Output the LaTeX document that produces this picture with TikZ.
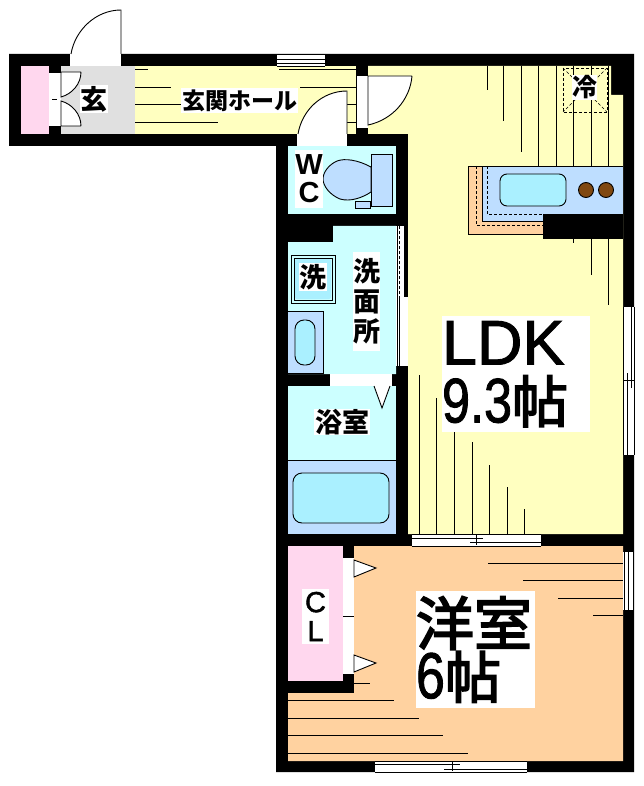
\documentclass[tikz,border=0pt]{standalone}
\usepackage{fontspec}
\usepackage{graphicx}
\setmainfont{Liberation Sans}
\newfontfamily\jpfont{Noto Sans CJK JP}
\newfontfamily\jpbig[FakeBold=3]{Noto Sans CJK JP}
\newfontfamily\latinbig[FakeBold=1.5]{Liberation Sans}
\usetikzlibrary{positioning}
\definecolor{ldkyellow}{RGB}{255,255,192}
\definecolor{wetblue}{RGB}{204,255,255}
\definecolor{unitblue}{RGB}{190,222,255}
\definecolor{basincyan}{RGB}{170,240,255}
\definecolor{roomtan}{RGB}{255,210,160}
\definecolor{closetpink}{RGB}{255,215,238}
\definecolor{entrygray}{RGB}{224,224,224}
\definecolor{burnerbrown}{RGB}{128,72,16}
\tikzset{
    thinline/.style={draw=black, line width=0.9pt},
    leaf/.style={draw=black, line width=0.9pt, fill=white},
    labelbox/.style={fill=white, inner sep=0pt, text=black},
    jpsmall/.style={labelbox, font=\jpfont\bfseries\fontsize{27}{30}\selectfont},
}

\begin{document}
\begin{tikzpicture}[x=1pt, y=-1pt]
    \useasboundingbox (0,0) rectangle (643,786);

    % walls, then the rooms on top of them
    \fill[black] (9,54) -- (634,54) -- (634,772) -- (276,772) -- (276,146) -- (9,146) -- cycle;
    \fill[closetpink] (21,66) rectangle (49,134);
    \fill[entrygray] (61,66) rectangle (135,134);
    \fill[ldkyellow] (135,66) rectangle (356,134);
    \fill[ldkyellow] (368,66) -- (611,66) -- (611,95) -- (623,95) -- (623,534) -- (408,534) -- (408,134) -- (368,134) -- cycle;
    \fill[wetblue] (288,146) rectangle (396,214);
    \fill[wetblue] (333,226) -- (396,226) -- (396,374) -- (288,374) -- (288,242) -- (333,242) -- cycle;
    \fill[wetblue] (288,386) rectangle (396,460);
    \fill[unitblue] (288,460) rectangle (396,534);
    \fill[roomtan] (354,546) -- (623,546) -- (623,761) -- (288,761) -- (288,693) -- (354,693) -- cycle;
    \fill[closetpink] (288,546) rectangle (343,681);

    % floor lines
    \draw[thinline] (135,69) -- (148,69) (279,69) -- (356,69) (135,87) -- (171,87) (300,87) -- (356,87)
        (135,104) -- (181,104) (335,104) -- (356,104) (135,122) -- (218,122) (335,122) -- (356,122);
    \draw[thinline] (487,66) -- (487,90) (503,66) -- (503,121) (521,66) -- (521,152) (538,66) -- (538,166)
        (556,66) -- (556,166) (573,66) -- (573,166) (591,66) -- (591,166) (608,66) -- (608,166)
        (573,239) -- (573,243) (591,239) -- (591,275) (608,239) -- (608,305);
    \draw[thinline] (419,375) -- (419,534) (436,398) -- (436,534) (454,432) -- (454,534) (472,442) -- (472,534)
        (489,465) -- (489,534) (507,487) -- (507,534) (524,509) -- (524,534);
    \draw[thinline] (488,563) -- (623,563) (523,580) -- (623,580) (558,598) -- (623,598) (593,615) -- (623,615)
        (354,683) -- (370,683) (288,700) -- (394,700) (288,718) -- (419,718) (288,735) -- (443,735) (288,753) -- (468,753);
    \draw[thinline] (288,460) -- (396,460);

    % entrance
    \fill[white] (70,54) rectangle (121,66);
    \draw[leaf] (71,54) .. controls (75,30) and (96,10) .. (121,10) -- (121,54);
    \fill[white] (49,72) rectangle (61,126);
    \draw[thinline] (49,72) -- (61,72) (49,126) -- (61,126) (52,99) -- (57,99);
    \draw[leaf] (81,72) -- (61,72) -- (61,97) .. controls (72,94) and (81,84) .. (81,72);
    \draw[leaf] (81,126) -- (61,126) -- (61,101) .. controls (72,104) and (81,114) .. (81,126);

    % hall window and doors
    \fill[white] (277,54) rectangle (325,66);
    \draw[thinline] (277,54) -- (325,54) (277,59) -- (325,59) (277,63) -- (325,63) (277,66) -- (325,66);
    \fill[white] (297,134) rectangle (347,146);
    \draw[leaf] (298,134) .. controls (302,110) and (322,91) .. (347,91) -- (347,134);
    \fill[white] (357,76) rectangle (368,128);
    \draw[leaf] (412,76) -- (368,76) -- (368,125) .. controls (392,120) and (410,100) .. (412,76);

    % toilet
    \draw[thinline, fill=unitblue] (371,154) rectangle (392,206);
    \draw[thinline, fill=unitblue] (371,167) .. controls (358,160) and (345,158) .. (337,161) .. controls (328,165) and (323,173) .. (323,179)
        .. controls (323,186) and (330,195) .. (340,199) .. controls (350,202) and (362,198) .. (371,192) -- cycle;
    \draw[thinline, fill=unitblue] (355,201) rectangle (370,208);

    % washroom and bath
    \draw[thinline] (291,255) rectangle (335,303);
    \draw[thinline] (294,258) rectangle (332,300);
    \fill[basincyan, rounded corners=2pt] (295,259) rectangle (331,299);
    \draw[thinline, fill=unitblue] (288,311) -- (323,311) -- (323,373) -- (288,373);
    \draw[thinline, fill=basincyan, rounded corners=9pt] (295,320) rectangle (315,365);
    \draw[thinline, fill=basincyan, rounded corners=9pt] (293,473) rectangle (389,523);
    \fill[white] (396,226) rectangle (404,297);
    \fill[white] (396,297) rectangle (408,366);
    \draw[thinline] (397,226) -- (397,366);
    \draw[thinline, densely dashed] (399.5,226) -- (399.5,297);
    \draw[thinline] (399.5,297) -- (399.5,366);
    \fill[white] (330,374) rectangle (392,386);
    \draw[leaf] (374,386) -- (382,408) -- (390,386);

    % kitchen
    \fill[roomtan] (468,166) rectangle (543,234);
    \draw[thinline] (543,234) -- (468,234) -- (468,166) -- (482,166);
    \fill[unitblue] (482,166) rectangle (623,214);
    \fill[unitblue] (482,214) rectangle (543,221);
    \draw[thinline] (623,166) -- (482,166) -- (482,221) -- (543,221);
    \draw[thinline, densely dashed] (476,166) -- (476,225) -- (543,225);
    \draw[thinline, densely dashed] (487,166) -- (487,214) -- (543,214);
    \draw[thinline, fill=basincyan, rounded corners=7pt] (500,174) rectangle (566,206);
    \draw[thinline, fill=burnerbrown] (586,190) circle (7.5);
    \draw[thinline, fill=burnerbrown] (606,190) circle (7.5);
    \fill[black] (543,214) rectangle (623,239);

    % outer windows
    \fill[white] (623,307) rectangle (634,455);
    \draw[thinline] (623,307) -- (623,455) (634,307) -- (634,455) (627,373) -- (627,455) (631,307) -- (631,388) (624,380) -- (634,380);
    \fill[white] (412,534) rectangle (541,546);
    \draw[thinline] (412,534) -- (541,534) (412,546) -- (541,546) (412,538) -- (483,538) (470,542) -- (541,542) (476,535) -- (476,545);
    \fill[white] (623,552) rectangle (634,610);
    \draw[thinline] (624,552) -- (624,610) (628,552) -- (628,610) (633,552) -- (633,610);
    \fill[white] (375,761) rectangle (527,772);
    \draw[thinline] (375,761) -- (527,761) (375,772) -- (527,772) (375,764) -- (460,764) (444,769) -- (527,769) (452,762) -- (452,771);

    % closet doors
    \fill[white] (343,558) rectangle (354,674);
    \draw[thinline] (343,616) -- (354,616);
    \draw[leaf] (354,560) -- (376,568) -- (354,577) -- cycle;
    \draw[leaf] (354,655) -- (376,663) -- (354,672) -- cycle;

    % fridge
    \draw[thinline, densely dashed] (563,68) rectangle (607,112);
    \draw[thinline, densely dashed, line width=0.5pt] (563,68) -- (607,112) (607,68) -- (563,112);

    % labels
    \node[jpsmall, minimum width=28, minimum height=28] (genkan) at (94,99) {玄};
    \node[labelbox, font=\jpfont\bfseries\fontsize{23}{25}\selectfont, minimum width=117, minimum height=25] (hall) at (239.5,100.5) {玄関ホール};
    \node[jpsmall, font=\jpfont\bfseries\fontsize{25}{27}\selectfont, minimum width=25, minimum height=25] (reizo) at (584.5,87.5) {冷};
    \node[labelbox, font=\bfseries\fontsize{29}{28}\selectfont, align=center, minimum width=28, minimum height=58] (wc) at (309,179) {W\\C};
    \node[jpsmall, minimum width=28, minimum height=28] (washer) at (313,277) {洗};
    \node[jpsmall, align=center, minimum width=27, minimum height=99] (senmen) at (366.5,301.5) {洗\\面\\所};
    \node[jpsmall, minimum width=56, minimum height=26] (bath) at (342,422) {浴室};
    \node[labelbox, font=\latinbig\fontsize{29}{29}\selectfont, align=center, minimum width=27, minimum height=55] (cl) at (315.5,616.5) {C\\L};
    \node[labelbox, font=\latinbig\fontsize{63}{58}\selectfont, align=left, text width=148, minimum height=116] (ldk) at (516,374)
        {LDK\\\scalebox{0.8}[1]{9.3}{\jpbig\fontsize{56}{58}\selectfont 帖}};
    \node[labelbox, font=\jpbig\fontsize{58}{53}\selectfont, align=left, text width=119, minimum height=117] (yoshitsu) at (475.5,649.5)
        {洋室\\{\latinbig\scalebox{0.8}[1]{\fontsize{65}{53}\selectfont 6}}{\fontsize{56}{53}\selectfont 帖}};
\end{tikzpicture}
\end{document}
